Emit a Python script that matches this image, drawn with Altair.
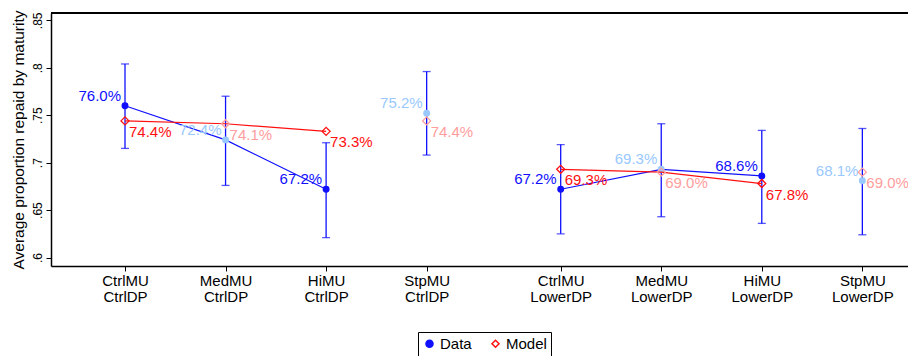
import altair as alt
import pandas as pd

# ---- data ----
positions = [1, 2, 3, 4, 5.333, 6.333, 7.333, 8.333]
mu_labels = ["CtrlMU", "MedMU", "HiMU", "StpMU", "CtrlMU", "MedMU", "HiMU", "StpMU"]
dp_labels = ["CtrlDP", "CtrlDP", "CtrlDP", "CtrlDP", "LowerDP", "LowerDP", "LowerDP", "LowerDP"]
data_vals = [0.760, 0.724, 0.672, 0.752, 0.672, 0.693, 0.686, 0.681]
ci_lo = [0.715, 0.676, 0.621, 0.708, 0.625, 0.643, 0.636, 0.624]
ci_hi = [0.804, 0.770, 0.721, 0.796, 0.719, 0.741, 0.734, 0.736]
model_vals = [0.744, 0.741, 0.733, 0.744, 0.693, 0.690, 0.678, 0.690]
data_shade = ["dark", "light", "dark", "light", "dark", "light", "dark", "light"]
model_shade = ["dark", "light", "dark", "light", "dark", "light", "dark", "light"]
y_ticks = [0.6, 0.65, 0.7, 0.75, 0.8, 0.85]
series_names = ["Data", "Model"]

BLUE = "#1010ff"
LIGHTBLUE = "#99c9ff"
RED = "#ff1010"
PINK = "#ff9d9d"
FONT = "Liberation Sans"

df = pd.DataFrame({
    "pos": positions,
    "mu": mu_labels,
    "dp": dp_labels,
    "data": data_vals,
    "lo": ci_lo,
    "hi": ci_hi,
    "model": model_vals,
    "dshade": data_shade,
    "mshade": model_shade,
})
df["dlabel"] = [f"{v*100:.1f}%" for v in df["data"]]
df["mlabel"] = [f"{v*100:.1f}%" for v in df["model"]]

xdom = [0.264, 8.787]
ydom = [0.5911, 0.8577]

label_expr = ""
for p, a, b in zip(positions, mu_labels, dp_labels):
    label_expr += f"datum.value == {p} ? ['{a}', '{b}'] : "
label_expr += "''"

XAXIS = alt.Axis(values=positions, labelExpr=label_expr, title=None,
                 grid=False, labelFontSize=15, labelLineHeight=16,
                 labelColor="black", tickColor="black", domainColor="black",
                 tickSize=5, tickWidth=1, domainWidth=1.5, labelPadding=2,
                 labelFont=FONT)
YAXIS = alt.Axis(values=y_ticks,
                 labelExpr="replace(format(datum.value, '.2~f'), '0.', '.')",
                 labelAngle=-90, labelAlign="center", labelBaseline="bottom",
                 labelFontSize=12, labelPadding=2, labelFont=FONT,
                 labelColor="black", tickColor="black", domainColor="black",
                 tickSize=5, domainWidth=1.5, grid=False,
                 title="Average proportion repaid by maturity",
                 titleFontSize=15.5, titleFontWeight="normal", titleFont=FONT,
                 titleColor="black", titlePadding=5)

def xenc():
    return alt.X("pos:Q", scale=alt.Scale(domain=xdom, nice=False, zero=False), axis=XAXIS)

def yenc(field):
    return alt.Y(f"{field}:Q", scale=alt.Scale(domain=ydom, nice=False, zero=False), axis=YAXIS)

base = alt.Chart(df)
lines_df = df[df["mu"] != "StpMU"]

err_rule = base.mark_rule(color=BLUE, strokeWidth=1.3).encode(
    x=xenc(), y=yenc("lo"), y2="hi:Q")
cap_lo = base.mark_tick(orient="horizontal", color=BLUE, size=8, thickness=1.3).encode(
    x=xenc(), y=yenc("lo"))
cap_hi = base.mark_tick(orient="horizontal", color=BLUE, size=8, thickness=1.3).encode(
    x=xenc(), y=yenc("hi"))

data_line = alt.Chart(lines_df).mark_line(color=BLUE, strokeWidth=1.2).encode(
    x=xenc(), y=yenc("data"), detail="dp:N")
data_pts = base.mark_circle(size=48, opacity=1).encode(
    x=xenc(), y=yenc("data"),
    color=alt.condition("datum.dshade == 'dark'", alt.value(BLUE), alt.value(LIGHTBLUE)))
data_txt = base.mark_text(align="right", baseline="middle", dx=-4, dy=-10,
                          fontSize=15, font=FONT).encode(
    x=xenc(), y=yenc("data"), text="dlabel:N",
    color=alt.condition("datum.dshade == 'dark'", alt.value(BLUE), alt.value(LIGHTBLUE)))

model_line = alt.Chart(lines_df).mark_line(color=RED, strokeWidth=1.2).encode(
    x=xenc(), y=yenc("model"), detail="dp:N")
model_pts = base.mark_point(shape="diamond", filled=False, size=64, strokeWidth=1.3,
                            opacity=1).encode(
    x=xenc(), y=yenc("model"),
    color=alt.condition("datum.mshade == 'dark'", alt.value(RED), alt.value(PINK)))
model_txt = base.mark_text(align="left", baseline="middle", dx=4, dy=11,
                           fontSize=15, font=FONT).encode(
    x=xenc(), y=yenc("model"), text="mlabel:N",
    color=alt.condition("datum.mshade == 'dark'", alt.value(RED), alt.value(PINK)))

# legend layer (points placed below the visible domain and clipped)
leg_df = pd.DataFrame({"series": series_names, "pos": [1, 1], "yy": [0.5, 0.5]})
legend_layer = alt.Chart(leg_df).mark_point(clip=True, size=50, strokeWidth=1.5,
                                            opacity=1).encode(
    x=xenc(), y=yenc("yy"),
    shape=alt.Shape("series:N", scale=alt.Scale(domain=series_names, range=["circle", "diamond"]),
                    legend=alt.Legend(title=None, orient="none", legendX=367, legendY=319,
                                      direction="horizontal", strokeColor="black",
                                      padding=4, labelFontSize=15, labelFont=FONT,
                                      labelColor="black", columnPadding=16,
                                      labelOffset=3, symbolOpacity=1, symbolSize=50)),
    fill=alt.Fill("series:N", scale=alt.Scale(domain=series_names, range=[BLUE, "transparent"]),
                  legend=alt.Legend(title=None)),
    stroke=alt.Stroke("series:N", scale=alt.Scale(domain=series_names, range=[BLUE, RED]),
                      legend=alt.Legend(title=None)),
)

top_line = alt.Chart(df).mark_rule(color="black", strokeWidth=1.5).encode(
    x=alt.value(0), x2=alt.value(857), y=alt.value(0))

chart = alt.layer(
    err_rule, cap_lo, cap_hi,
    data_line, data_pts, data_txt,
    model_line, model_pts, model_txt,
    legend_layer, top_line,
).properties(
    width=857, height=253,
    autosize=alt.AutoSizeParams(type="none"),
    padding={"left": 51, "top": 13, "right": 0, "bottom": 90},
).configure_view(stroke=None).configure(background="white")

chart.save("out.html", embed_options={"renderer": "svg", "actions": False})
